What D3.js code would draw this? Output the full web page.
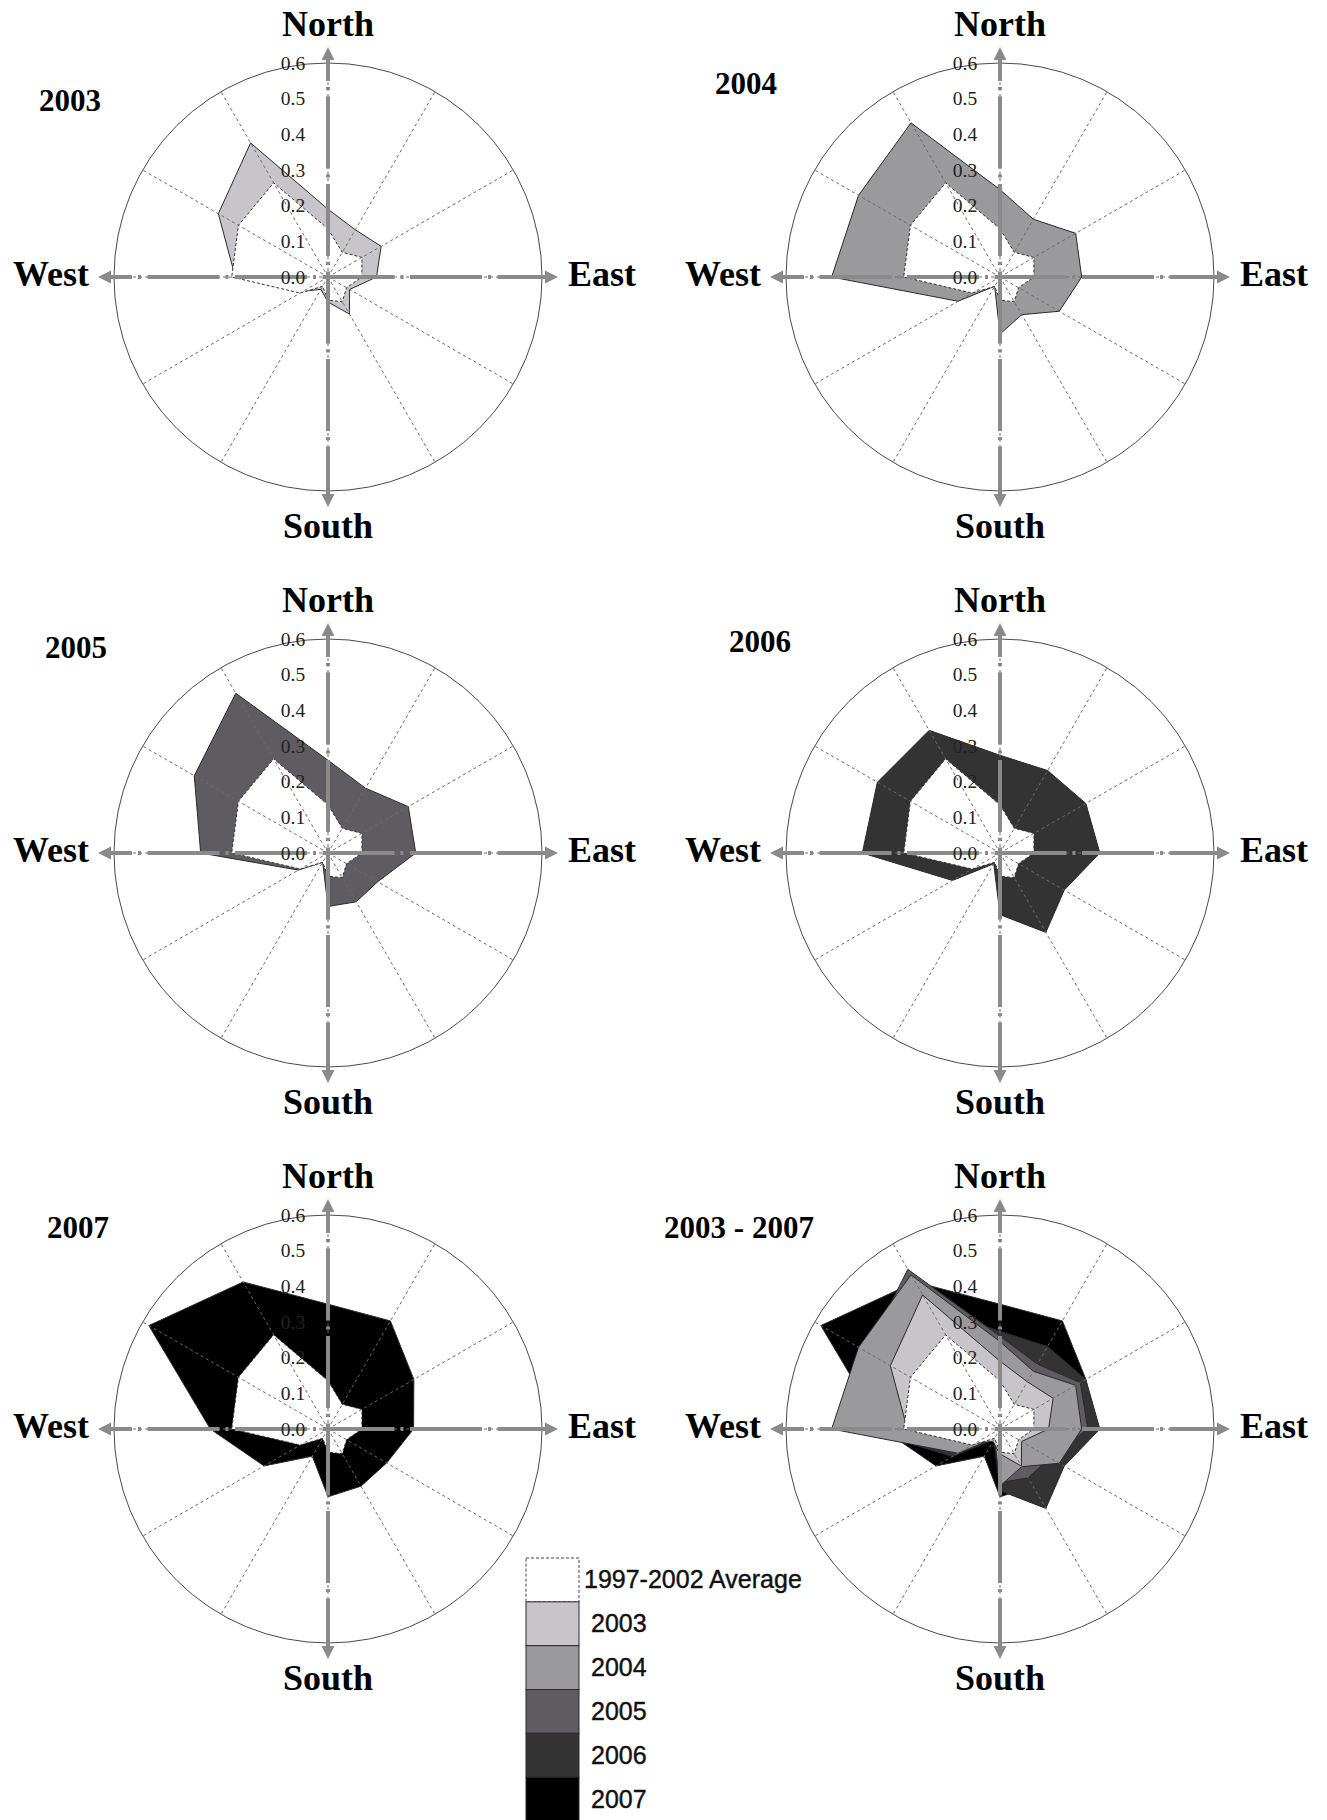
<!DOCTYPE html>
<html><head><meta charset="utf-8">
<script src="https://cdnjs.cloudflare.com/ajax/libs/d3/7.8.5/d3.min.js"></script>
<style>body{margin:0;background:#fff}</style>
</head><body><div id="chart"></div>
<script>
// ---- data ----
const directions = [0, 30, 60, 90, 120, 150, 180, 210, 240, 270, 300, 330];
const avg9702 = [0.135, 0.08, 0.11, 0.095, 0.06, 0.08, 0.065, 0.03, 0.09, 0.27, 0.29, 0.305];
const y2003 = [0.19, 0.153, 0.172, 0.136, 0.07, 0.12, 0.07, 0.04, 0.08, 0.26, 0.355, 0.434];
const y2004 = [0.245, 0.187, 0.245, 0.229, 0.192, 0.122, 0.16, 0.03, 0.136, 0.472, 0.458, 0.499];
const y2005 = [0.26, 0.21, 0.26, 0.246, 0.161, 0.158, 0.15, 0.03, 0.096, 0.357, 0.433, 0.517];
const y2006 = [0.274, 0.267, 0.278, 0.28, 0.208, 0.257, 0.173, 0.035, 0.154, 0.386, 0.397, 0.397];
const y2007 = [0.35, 0.35, 0.278, 0.24, 0.19, 0.185, 0.19, 0.088, 0.207, 0.33, 0.58, 0.476];
const years = ["2003", "2004", "2005", "2006", "2007"];
const yearColors = ["#c7c4ca", "#9a999b", "#5e5c61", "#333333", "#000000"];
const tickValues = [0, 0.1, 0.2, 0.3, 0.4, 0.5, 0.6];
const tickLabels = ["0.0", "0.1", "0.2", "0.3", "0.4", "0.5", "0.6"];
const compass = ["North", "East", "South", "West"];
const panelTitles = ["2003", "2004", "2005", "2006", "2007", "2003 - 2007"];
const legendLabels = ["1997-2002 Average", "2003", "2004", "2005", "2006", "2007"];

const seriesByYear = {"2003": y2003, "2004": y2004, "2005": y2005, "2006": y2006, "2007": y2007};
const colorScale = d3.scaleOrdinal().domain(years).range(yearColors);

// ---- layout ----
const W = 1327, H = 1820, R = 214, ARM = 230;
const panels = [
  {title: panelTitles[0], cx: 328,  cy: 277,  show: ["2003"], tx: -258, ty: -166},
  {title: panelTitles[1], cx: 1000, cy: 277,  show: ["2004"], tx: -254, ty: -183},
  {title: panelTitles[2], cx: 328,  cy: 853,  show: ["2005"], tx: -252, ty: -195},
  {title: panelTitles[3], cx: 1000, cy: 853,  show: ["2006"], tx: -240, ty: -201},
  {title: panelTitles[4], cx: 328,  cy: 1429, show: ["2007"], tx: -250, ty: -191},
  {title: panelTitles[5], cx: 1000, cy: 1429, show: ["2007", "2006", "2005", "2004", "2003"], tx: -261, ty: -191}
];

const svg = d3.select("#chart").append("svg")
  .attr("width", W).attr("height", H)
  .style("font-family", "'Liberation Serif','Times New Roman',serif");
svg.append("rect").attr("width", W).attr("height", H).attr("fill", "#fff");

const rScale = d3.scaleLinear().domain([0, 0.6]).range([0, R]);
const aScale = d3.scaleLinear().domain([0, 360]).range([0, 2 * Math.PI]);
const radial = d3.lineRadial()
  .angle((d, i) => aScale(directions[i]))
  .radius(d => rScale(d))
  .curve(d3.curveLinearClosed);

const AXIS_GRAY = "#8a8a8a";

panels.forEach(p => {
  const g = svg.append("g").attr("transform", `translate(${p.cx},${p.cy})`);

  g.append("circle").attr("r", rScale(0.6)).attr("fill", "#fff")
    .attr("stroke", "#4a4a4a").attr("stroke-width", 1);

  // year polygons
  p.show.forEach(y => {
    g.append("path").attr("d", radial(seriesByYear[y]))
      .attr("fill", colorScale(y)).attr("stroke", "#2a2a2a")
      .attr("stroke-width", 1).attr("stroke-linejoin", "miter");
  });

  // 1997-2002 average
  g.append("path").attr("d", radial(avg9702))
    .attr("fill", "#fff").attr("stroke", "#333")
    .attr("stroke-width", 1).attr("stroke-dasharray", "3,2");

  // spokes
  g.selectAll("line.spoke").data(directions).enter().append("line")
    .attr("class", "spoke")
    .attr("x1", 0).attr("y1", 0)
    .attr("x2", d => rScale(0.6) * Math.sin(aScale(d)))
    .attr("y2", d => -rScale(0.6) * Math.cos(aScale(d)))
    .attr("stroke", "#6a6a6a").attr("stroke-width", 1)
    .attr("stroke-dasharray", "3,3");

  // compass axes (dash-dot) with arrows
  const L = ARM - 11;
  [[0, -L, 0, L], [-L, 0, L, 0]].forEach(c => {
    g.append("line").attr("x1", c[0]).attr("y1", c[1]).attr("x2", c[2]).attr("y2", c[3])
      .attr("stroke", AXIS_GRAY).attr("stroke-width", 4)
      .attr("stroke-dasharray", "72,6,3,6.5").attr("stroke-dashoffset", 49);
  });
  const arrows = [
    `M0,${-ARM} L-6.5,${-ARM + 13} L6.5,${-ARM + 13} Z`,
    `M0,${ARM} L-6.5,${ARM - 13} L6.5,${ARM - 13} Z`,
    `M${-ARM},0 L${-ARM + 13},-6.5 L${-ARM + 13},6.5 Z`,
    `M${ARM},0 L${ARM - 13},-6.5 L${ARM - 13},6.5 Z`
  ];
  arrows.forEach(a => g.append("path").attr("d", a).attr("fill", AXIS_GRAY));

  // tick labels
  g.selectAll("text.tick").data(tickValues).enter().append("text")
    .attr("class", "tick")
    .attr("x", -35).attr("y", d => -rScale(d) + 6.5)
    .attr("text-anchor", "middle")
    .attr("font-size", 19.5).attr("fill", "#222")
    .text((d, i) => tickLabels[i]);

  // compass labels
  const cpos = [
    {x: 0, y: -241, a: "middle"},
    {x: 240, y: 9, a: "start"},
    {x: 0, y: 261, a: "middle"},
    {x: -239, y: 9, a: "end"}
  ];
  compass.forEach((t, i) => {
    g.append("text").attr("x", cpos[i].x).attr("y", cpos[i].y)
      .attr("text-anchor", cpos[i].a)
      .attr("font-size", 36).attr("font-weight", "bold").attr("fill", "#000")
      .text(t);
  });

  // title
  g.append("text").attr("x", p.tx).attr("y", p.ty)
    .attr("text-anchor", "middle").attr("font-size", 31)
    .attr("font-weight", "bold").attr("fill", "#000").text(p.title);
});

// ---- legend ----
const lg = svg.append("g").style("font-family", "'Liberation Sans',Arial,sans-serif");
const boxY = d3.scaleLinear().domain([0, 6]).range([1558, 1821]);
const legendFill = ["#fff"].concat(yearColors);
legendLabels.forEach((t, i) => {
  const y0 = boxY(i), y1 = boxY(i + 1);
  lg.append("rect").attr("x", 526).attr("y", y0).attr("width", 53).attr("height", y1 - y0)
    .attr("fill", legendFill[i]).attr("stroke", i === 0 ? "#444" : "#2a2a2a")
    .attr("stroke-width", 1).attr("stroke-dasharray", i === 0 ? "3,2" : null);
});
legendLabels.forEach((t, i) => {
  const yc = (boxY(i) + boxY(i + 1)) / 2;
  lg.append("text").attr("x", i === 0 ? 584 : 591).attr("y", yc + 8.5)
    .attr("font-size", 25).attr("fill", "#111")
    .attr("stroke", "#111").attr("stroke-width", 0.4).text(t);
});
</script>
</body></html>
